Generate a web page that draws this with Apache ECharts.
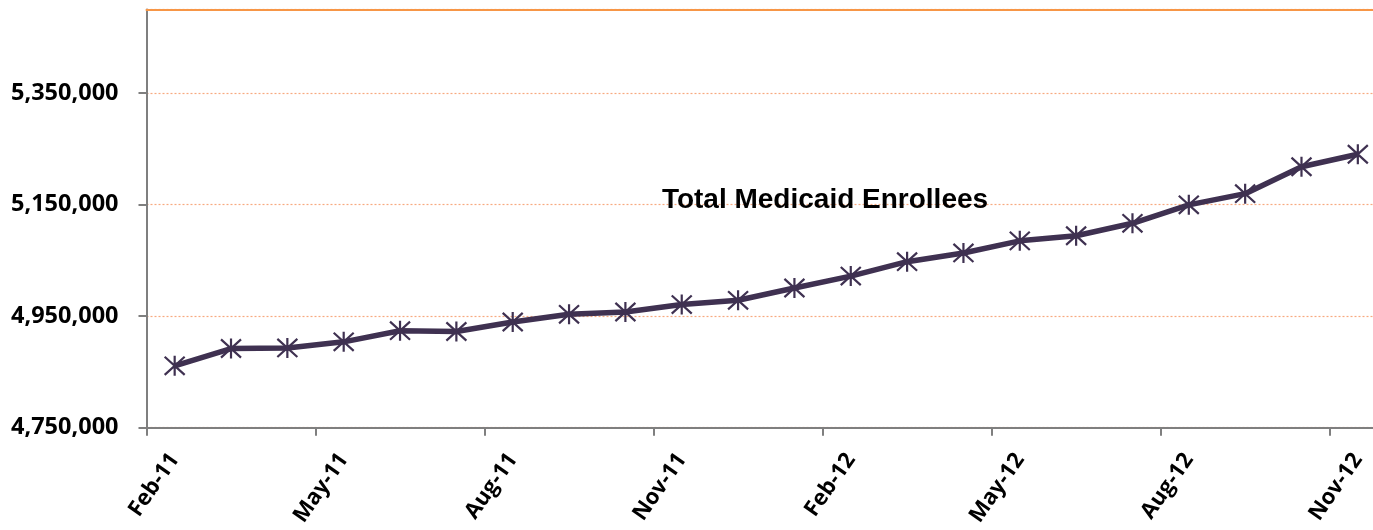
<!DOCTYPE html>
<html>
<head>
<meta charset="utf-8">
<script src="https://cdn.jsdelivr.net/npm/echarts@6/dist/echarts.min.js"></script>
<style>
html,body{margin:0;padding:0;background:#fff;overflow:hidden;}
#chart{width:1386px;height:530px;}
</style>
</head>
<body>
<div id="chart"></div>
<script>
const months = ['Feb-11','Mar-11','Apr-11','May-11','Jun-11','Jul-11','Aug-11','Sep-11','Oct-11','Nov-11','Dec-11','Jan-12','Feb-12','Mar-12','Apr-12','May-12','Jun-12','Jul-12','Aug-12','Sep-12','Oct-12','Nov-12'];
const enrollees = [4861000, 4892000, 4893000, 4904000, 4924000, 4922500, 4939600, 4953400, 4957500, 4970800, 4978500, 5000500, 5021900, 5047700, 5063400, 5085100, 5094200, 5116600, 5149700, 5169700, 5218000, 5240400];
const yMin = 4750000;
const yMax = 5500000;
const yStep = 200000;
const seriesTitle = 'Total Medicaid Enrollees';

const chart = echarts.init(document.getElementById('chart'));
const labelFont = '"Open Sans", "Liberation Sans", sans-serif';
chart.setOption({
  animation: false,
  backgroundColor: '#ffffff',
  grid: {left: 146.5, right: 0, top: 9.5, bottom: 102.3, containLabel: false},
  graphic: [{
    type: 'text',
    x: 825, y: 200.5,
    style: {
      text: seriesTitle,
      fontSize: 28, fontWeight: 'bold', fontFamily: '"Liberation Sans", Arial, sans-serif',
      fill: '#000000', textAlign: 'center', textVerticalAlign: 'middle'
    },
    z: 100
  }],
  xAxis: [{
    type: 'category',
    data: months,
    boundaryGap: true,
    axisLine: {lineStyle: {color: '#7f7f7f', width: 2}},
    axisTick: {show: true, interval: 2, length: 8, lineStyle: {color: '#7f7f7f', width: 2}},
    axisLabel: {interval: 2, rotate: 55, margin: 28, fontSize: 22, fontWeight: 'bold', fontFamily: labelFont, color: '#000000'},
    splitLine: {show: false}
  }, {
    type: 'category',
    data: months,
    position: 'top',
    boundaryGap: true,
    axisLine: {show: true, lineStyle: {color: '#F79646', width: 2}},
    axisTick: {show: false},
    axisLabel: {show: false},
    splitLine: {show: false}
  }],
  yAxis: {
    type: 'value',
    min: yMin, max: yMax, interval: yStep,
    axisLine: {show: true, lineStyle: {color: '#7f7f7f', width: 2}},
    axisTick: {show: true, length: 8, lineStyle: {color: '#7f7f7f', width: 2}},
    axisLabel: {
      showMaxLabel: false, margin: 28, fontSize: 23.5, fontWeight: 'bold', fontFamily: labelFont, color: '#000000',
      formatter: v => v.toLocaleString('en-US')
    },
    splitLine: {show: true, lineStyle: {color: '#F7AA80', type: [2, 2], width: 1.2}}
  },
  series: [{
    type: 'line',
    data: enrollees,
    xAxisIndex: 0,
    lineStyle: {color: '#3F3151', width: 5.5},
    symbol: 'path://M0,0 L20,20 M20,0 L0,20 M10,-1 L10,21',
    symbolSize: 20,
    showAllSymbol: true,
    itemStyle: {color: 'none', borderColor: '#3F3151', borderWidth: 2.2},
    z: 5
  }]
});
</script>
</body>
</html>
